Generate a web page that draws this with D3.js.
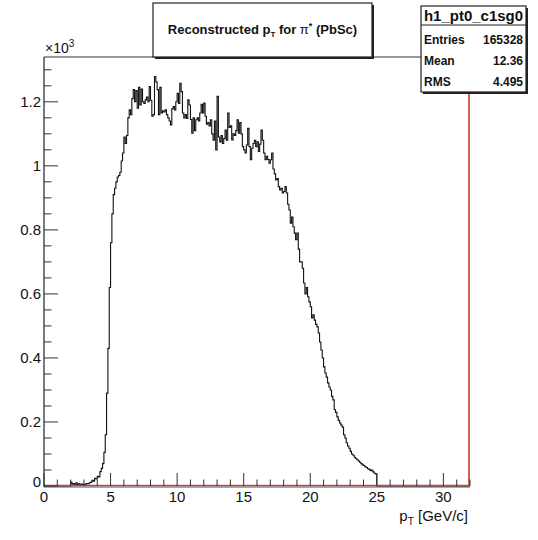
<!DOCTYPE html>
<html>
<head>
<meta charset="utf-8">
<script src="https://cdn.jsdelivr.net/npm/d3@7"></script>
<style>
  body { margin: 0; background: #fff; }
  svg { display: block; font-family: "Liberation Sans", Arial, Helvetica, sans-serif; }
</style>
</head>
<body>
<div id="chart"></div>
<script>
// histogram definition: 0.1 GeV/c bins from 0 to 32, counts start at 2.0 GeV/c
var binWidth = 0.1;
var histMin = 0;
var histMax = 32;
var firstFilled = 2.0;
// counts per bin (2.0 .. 24.9)
var counts = [
  12, 6, 8, 4, 10, 5, 7, 3, 6, 4,
  5, 6, 8, 7, 10, 12, 18, 15, 24, 22,
  30, 28, 45, 55, 70, 105, 160, 290, 430, 620,
  760, 850, 910, 930, 950, 965, 970, 980, 1015, 1040,
  1090, 1070, 1095, 1150, 1175, 1160, 1210, 1238, 1200, 1235,
  1180, 1245, 1190, 1240, 1200, 1195, 1206, 1215, 1200, 1248,
  1205, 1155, 1160, 1279, 1262, 1238, 1160, 1245, 1165, 1172,
  1168, 1175, 1160, 1150, 1140, 1128, 1178, 1185, 1175, 1200,
  1227, 1195, 1258, 1232, 1165, 1150, 1160, 1148, 1206, 1190,
  1145, 1102, 1150, 1110, 1144, 1150, 1140, 1165, 1192, 1165,
  1196, 1155, 1130, 1135, 1125, 1144, 1100, 1080, 1140, 1050,
  1217, 1090, 1075, 1095, 1070, 1085, 1112, 1080, 1165, 1120,
  1125, 1081, 1100, 1095, 1110, 1144, 1102, 1135, 1100, 1060,
  1050, 1040, 1065, 1117, 1060, 1019, 1055, 1070, 1080, 1060,
  1075, 1045, 1068, 1112, 1080, 1040, 1019, 1030, 1020, 1008,
  1019, 1040, 990, 975, 956, 960, 935, 925, 930, 915,
  920, 935, 915, 880, 862, 821, 840, 810, 790, 769,
  790, 740, 700, 700, 680, 634, 600, 620, 591, 575,
  560, 525, 535, 518, 505, 497, 478, 450, 425, 400,
  372, 353, 340, 322, 309, 300, 280, 269, 238, 230,
  216, 205, 197, 190, 184, 160, 150, 135, 125, 118,
  108, 100, 96, 90, 86, 82, 78, 74, 70, 66,
  64, 60, 58, 54, 52, 48, 50, 44, 40, 38
];
var yMax = 1340;
var xMajorTicks = [0, 5, 10, 15, 20, 25, 30];
var yMajorTicks = [0, 200, 400, 600, 800, 1000, 1200];
var titleMain = "Reconstructed p";
var histName = "h1_pt0_c1sg0";
var statsLabels = ["Entries", "Mean", "RMS"];
var statsValues = ["165328", "12.36", "4.495"];

var W = 538, H = 540;
var fLeft = 44, fRight = 470, fTop = 57, fBottom = 486; // frame edges

var svg = d3.select("#chart").append("svg").attr("width", W).attr("height", H);

var x = d3.scaleLinear().domain([histMin, histMax]).range([fLeft, fRight]);
var y = d3.scaleLinear().domain([0, yMax]).range([fBottom, fTop]);

// full bin list, empty bins included so the outline runs along the axis
var nBins = Math.round((histMax - histMin) / binWidth);
var offset = Math.round((firstFilled - histMin) / binWidth);
var bins = d3.range(nBins).map(function(i) {
  var c = (i >= offset && i - offset < counts.length) ? counts[i - offset] : 0;
  return { x0: histMin + i * binWidth, x1: histMin + (i + 1) * binWidth, n: c };
});

// step outline
var pts = [[x(histMin), y(0)]];
bins.forEach(function(b) {
  pts.push([x(b.x0), y(b.n)]);
  pts.push([x(b.x1), y(b.n)]);
});
pts.push([x(histMax), y(0)]);
svg.append("path")
  .attr("d", d3.line()(pts))
  .attr("fill", "none")
  .attr("stroke", "#111")
  .attr("stroke-width", 1.1);

// frame
svg.append("line").attr("x1", fLeft).attr("x2", fRight).attr("y1", fTop).attr("y2", fTop)
  .attr("stroke", "#333").attr("stroke-width", 1);
svg.append("line").attr("x1", fRight - 1).attr("x2", fRight - 1).attr("y1", fTop).attr("y2", fBottom)
  .attr("stroke", "#c0392b").attr("stroke-width", 1.6);
svg.append("line").attr("x1", fLeft).attr("x2", fRight).attr("y1", fBottom - 0.5).attr("y2", fBottom - 0.5)
  .attr("stroke", "#d04040").attr("stroke-width", 1.4);
svg.append("line").attr("x1", fLeft).attr("x2", fRight).attr("y1", fBottom + 1).attr("y2", fBottom + 1)
  .attr("stroke", "#555").attr("stroke-width", 1);
svg.append("line").attr("x1", fLeft).attr("x2", fLeft).attr("y1", fTop).attr("y2", fBottom + 1)
  .attr("stroke", "#222").attr("stroke-width", 1.2);

// x axis ticks (upwards) and labels
var xMinor = d3.range(histMin, histMax + 0.5, 1);
svg.selectAll(".xtick").data(xMinor).enter().append("line")
  .attr("x1", function(d) { return x(d); }).attr("x2", function(d) { return x(d); })
  .attr("y1", fBottom)
  .attr("y2", function(d) { return xMajorTicks.indexOf(d) >= 0 ? fBottom - 13 : fBottom - 6.5; })
  .attr("stroke", "#333").attr("stroke-width", 1);
svg.selectAll(".xlab").data(xMajorTicks).enter().append("text")
  .attr("x", function(d) { return x(d); })
  .attr("y", fBottom + 16)
  .attr("text-anchor", "middle")
  .attr("font-size", 15)
  .attr("fill", "#111")
  .text(function(d) { return d; });

// y axis ticks (to the right) and labels
var yMinor = d3.range(0, yMax, 50);
svg.selectAll(".ytick").data(yMinor).enter().append("line")
  .attr("x1", fLeft)
  .attr("x2", function(d) { return yMajorTicks.indexOf(d) >= 0 ? fLeft + 14 : fLeft + 7.5; })
  .attr("y1", function(d) { return y(d); }).attr("y2", function(d) { return y(d); })
  .attr("stroke", "#333").attr("stroke-width", 1);
svg.selectAll(".ylab").data(yMajorTicks).enter().append("text")
  .attr("x", fLeft - 3)
  .attr("y", function(d) { return d === 0 ? y(d) + 1 : y(d) + 5.5; })
  .attr("text-anchor", "end")
  .attr("font-size", 15)
  .attr("fill", "#111")
  .text(function(d) { return String(+(d / 1000).toFixed(1)); });

// x10^3 multiplier
var mult = svg.append("text").attr("x", fLeft + 1).attr("y", 53).attr("font-size", 14).attr("fill", "#111");
mult.append("tspan").text("\u00d710");
mult.append("tspan").attr("font-size", 10).attr("dy", -6).text("3");

// axis title
var xt = svg.append("text").attr("x", fRight - 2).attr("y", 521).attr("text-anchor", "end")
  .attr("font-size", 15).attr("fill", "#111");
xt.append("tspan").text("p");
xt.append("tspan").attr("font-size", 10).attr("dy", 4).text("T");
xt.append("tspan").attr("dy", -4).text(" [GeV/c]");

// title box
var tb = { x: 153, y: 3, w: 219, h: 54 };
svg.append("rect").attr("x", tb.x + 2).attr("y", tb.y + 2).attr("width", tb.w).attr("height", tb.h).attr("fill", "#222");
svg.append("rect").attr("x", tb.x).attr("y", tb.y).attr("width", tb.w).attr("height", tb.h)
  .attr("fill", "#fff").attr("stroke", "#222").attr("stroke-width", 1.2);
var tt = svg.append("text").attr("x", tb.x + tb.w / 2).attr("y", 34).attr("text-anchor", "middle")
  .attr("font-size", 13).attr("font-weight", "bold").attr("fill", "#111");
tt.append("tspan").text(titleMain);
tt.append("tspan").attr("font-size", 8).attr("dy", 3).text("T");
tt.append("tspan").attr("dy", -3).text(" for  ");
tt.append("tspan").attr("font-weight", "normal").text("\u03c0");
tt.append("tspan").attr("font-size", 9).attr("dy", -5).text("*");
tt.append("tspan").attr("dy", 5).text(" (PbSc)");

// stats box
var sb = { x: 421, y: 6, w: 105, h: 86, head: 19 };
svg.append("rect").attr("x", sb.x + 2).attr("y", sb.y + 2).attr("width", sb.w).attr("height", sb.h).attr("fill", "#222");
svg.append("rect").attr("x", sb.x).attr("y", sb.y).attr("width", sb.w).attr("height", sb.h)
  .attr("fill", "#fff").attr("stroke", "#222").attr("stroke-width", 1.2);
svg.append("line").attr("x1", sb.x).attr("x2", sb.x + sb.w).attr("y1", sb.y + sb.head).attr("y2", sb.y + sb.head)
  .attr("stroke", "#222").attr("stroke-width", 1);
svg.append("text").attr("x", sb.x + sb.w / 2).attr("y", sb.y + 15).attr("text-anchor", "middle")
  .attr("font-size", 15).attr("font-weight", "bold").attr("fill", "#111").text(histName);
var rowY = d3.scalePoint().domain(statsLabels).range([sb.y + 38, sb.y + 80]);
svg.selectAll(".slab").data(statsLabels).enter().append("text")
  .attr("x", sb.x + 3).attr("y", function(d) { return rowY(d); })
  .attr("font-size", 12).attr("font-weight", "bold").attr("fill", "#111")
  .text(function(d) { return d; });
svg.selectAll(".sval").data(statsValues).enter().append("text")
  .attr("x", sb.x + sb.w - 3).attr("y", function(d, i) { return rowY(statsLabels[i]); })
  .attr("text-anchor", "end")
  .attr("font-size", 12).attr("font-weight", "bold").attr("fill", "#111")
  .text(function(d) { return d; });
</script>
</body>
</html>
